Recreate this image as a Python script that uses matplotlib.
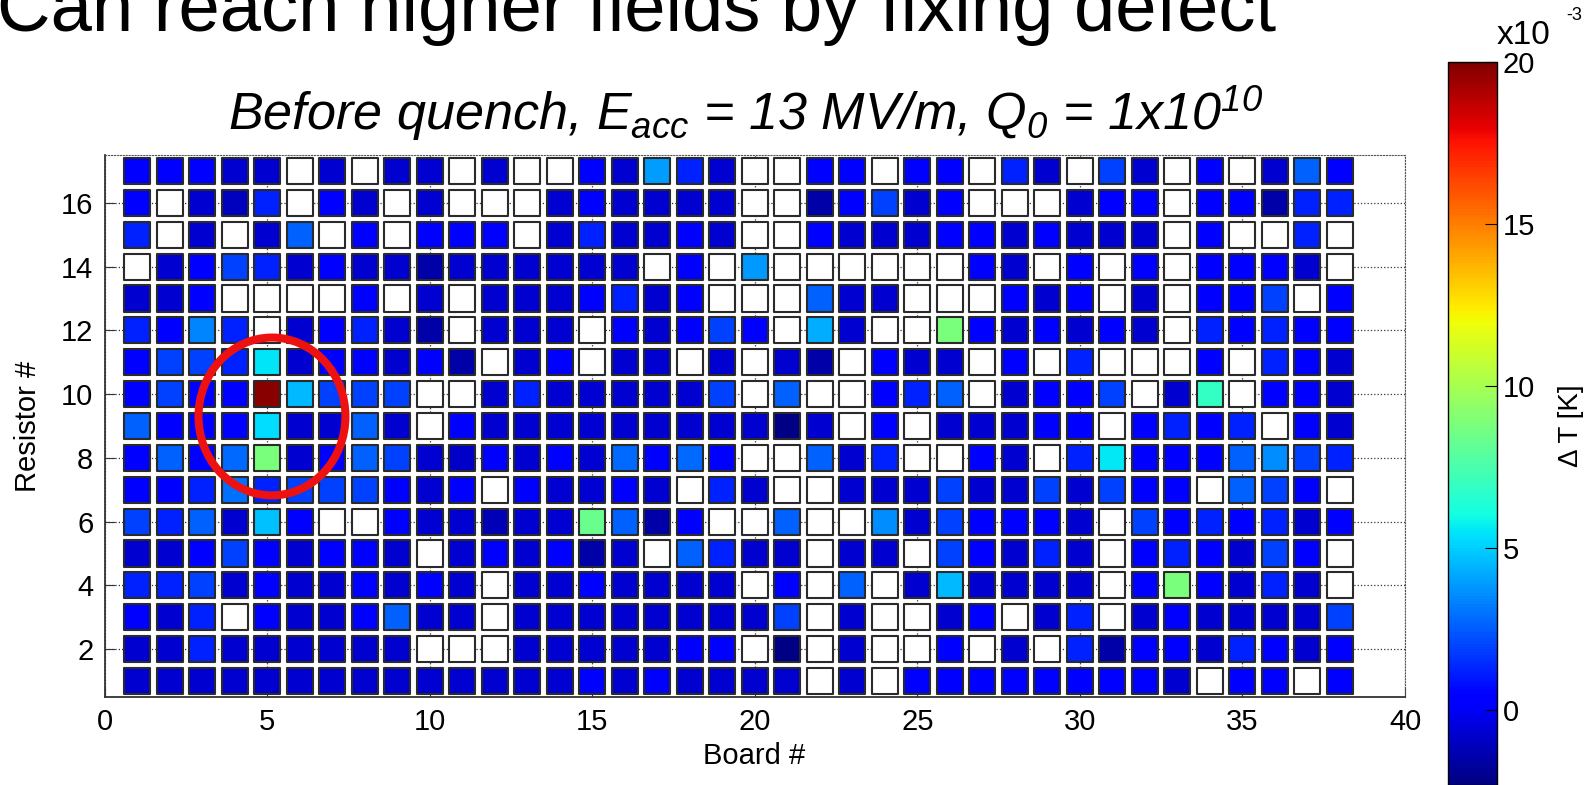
import numpy as np
import matplotlib as mpl
import matplotlib.pyplot as plt
from matplotlib.patches import Rectangle, Ellipse
from matplotlib.collections import PatchCollection

mpl.rcParams['font.family'] = 'Liberation Sans'
mpl.rcParams['mathtext.fontset'] = 'custom'
mpl.rcParams['mathtext.it'] = 'Liberation Sans:italic'
mpl.rcParams['mathtext.rm'] = 'Liberation Sans:italic'

nan = np.nan

# boards along x, resistors along y
boards = np.arange(1, 39)
resistors = np.arange(1, 18)

# delta T per resistor row, in units of 1e-3 K (nan = no reading)
r01 = [-0.7, -0.7, -0.7, -0.7, -0.7, -0.7, -0.7, -0.7, -0.7, -0.7, -0.7, -0.7, -0.7, -0.7, 0.3, -0.7, 0.3, -0.7, -0.7,
       -0.7, -0.7, nan, -0.7, nan, 0.3, 0.3, 0.3, 0.3, 0.3, 0.3, 0.3, 0.3, -0.7, nan, 0.3, 0.3, nan, 0.3]
r02 = [-0.7, -0.7, 1.2, -0.7, -0.7, -0.7, -0.7, -0.7, -0.7, nan, nan, nan, -0.7, -0.7, -0.7, -0.7, -0.7, 0.3, 0.3,
       nan, -2.2, nan, -0.7, nan, nan, 0.3, nan, -0.7, nan, 1.2, -1.5, 0.3, 0.3, -0.7, 1.2, 0.3, -0.7, 0.3]
r03 = [0.3, -0.7, 1.2, nan, 0.3, -0.7, -0.7, 0.3, 2.6, -0.7, -0.7, nan, -0.7, -0.7, -0.7, -0.7, -0.7, -0.7, -0.7,
       -0.7, 1.9, nan, -0.7, nan, nan, -0.7, 0.3, nan, -0.7, 1.2, nan, -0.7, 0.3, -0.7, -0.7, -0.7, -0.7, 1.9]
r04 = [1.2, 1.2, 1.9, -0.7, 0.3, -0.7, -0.7, 0.3, -0.7, 0.3, -0.7, nan, -0.7, -0.7, 0.3, -0.7, -0.7, -0.7, -0.7,
       nan, 0.3, nan, 2.6, nan, -0.7, 4.5, -0.7, -0.7, -0.7, -0.7, nan, 0.3, 8.8, 0.3, -0.7, 1.2, -0.7, nan]
r05 = [-0.7, -0.7, 0.3, 1.9, 0.3, -0.7, 0.3, 0.3, -0.7, nan, -0.7, 0.3, -0.7, 0.3, -1.5, -0.7, nan, 2.6, 1.2,
       -0.7, -0.7, nan, -0.7, -0.7, nan, 1.9, 0.3, -0.7, 1.2, -0.7, nan, 0.3, 1.2, 0.3, -0.7, 1.9, 0.3, nan]
r06 = [1.9, 1.2, 2.6, -0.7, 4.7, 0.3, nan, nan, 0.3, -0.7, -0.7, -1.2, -0.7, -0.7, 8.4, 2.6, -1.5, 0.3, nan,
       nan, 2.6, nan, nan, 3.6, -0.7, 1.9, 0.3, 0.3, 0.3, -0.7, nan, 1.9, 0.3, 1.2, 0.3, 1.2, -0.7, 0.3]
r07 = [0.3, 0.3, 1.2, 3.0, 1.2, 1.9, 1.9, 1.9, 0.3, -0.7, 0.3, nan, 0.3, -0.7, -0.7, 0.3, -0.7, nan, 1.2,
       -0.7, nan, nan, -0.7, -0.7, -0.7, 1.9, -0.7, -0.7, 1.9, -0.7, 1.9, 0.3, 0.3, nan, 2.6, 1.9, 0.3, nan]
r08 = [0.3, 2.6, 0.3, 2.8, 8.8, -0.7, 0.3, 2.6, 1.9, -0.7, -0.9, 0.3, -0.7, 0.3, -0.7, 2.8, 0.3, 2.8, 0.3,
       nan, nan, 2.6, -0.7, 1.2, nan, nan, 0.3, -0.7, nan, 1.2, 5.6, 0.3, 0.3, 0.3, 2.6, 3.6, 1.9, 1.2]
r09 = [2.6, 0.3, 0.3, 0.3, 5.3, -0.7, -0.7, 2.6, -0.7, nan, 0.3, -0.7, -0.7, -0.7, -0.7, -0.7, -0.7, -0.7, -0.7,
       -0.7, -2.2, -0.7, nan, 0.3, nan, -0.7, -0.7, -0.7, 0.3, 0.3, nan, 0.3, 1.2, 0.3, 1.2, nan, 0.3, -0.7]
r10 = [0.3, 1.9, 0.3, 0.3, 19.8, 4.5, 1.9, 1.9, 1.9, nan, nan, -0.7, 1.2, -0.7, -0.7, -0.7, -0.7, -0.7, 1.9,
       nan, 2.6, nan, nan, 0.3, 1.2, 2.6, nan, -0.7, 0.3, 0.3, 1.9, nan, -0.7, 6.9, nan, 0.3, 0.3, -0.7]
r11 = [0.3, 1.9, 1.9, 1.2, 5.5, -0.7, 0.3, 0.3, -0.7, 0.3, -1.5, nan, -0.7, 0.3, nan, -0.7, -0.7, nan, -0.7,
       nan, -0.7, -1.5, nan, 0.3, -0.7, -0.7, nan, 0.3, nan, 1.2, nan, nan, nan, 0.3, nan, 1.2, 0.3, -0.7]
r12 = [1.2, 0.3, 3.4, 1.2, nan, -0.7, 0.3, 1.2, -0.7, -1.5, nan, -0.7, -0.7, -0.7, nan, 0.3, -0.7, 0.3, 1.9,
       0.3, nan, 4.3, -0.7, nan, nan, 8.8, 0.3, -0.7, 0.3, -0.7, 0.3, -0.7, nan, 1.2, 0.3, 1.2, 0.3, 0.3]
r13 = [-0.7, -0.7, 0.3, nan, nan, nan, nan, 0.3, nan, -0.7, nan, -0.7, -0.7, -0.7, 0.3, 1.2, -0.7, 0.3, nan,
       nan, nan, 2.6, -0.7, -0.7, nan, nan, nan, 0.3, -0.7, 0.3, nan, -0.7, nan, 0.3, 0.3, 1.9, nan, 0.3]
r14 = [nan, -0.7, 0.3, 1.9, 1.2, -0.7, 0.3, -0.7, -0.7, -1.5, -0.7, -0.7, -0.7, -0.7, -0.7, -0.7, nan, 0.3, nan,
       3.8, nan, nan, nan, nan, nan, nan, 0.3, -0.7, nan, 0.3, nan, 0.3, nan, 0.3, 0.3, 0.3, -0.7, nan]
r15 = [1.2, nan, -0.7, nan, -0.7, 2.6, nan, 0.3, nan, 0.3, 0.3, 0.3, nan, -0.7, 1.2, -0.7, -0.7, 0.3, -0.7,
       nan, nan, 0.3, -0.7, -0.7, -0.7, 0.3, 0.3, -0.7, 0.3, -0.7, -0.7, -0.7, nan, 0.3, nan, nan, 1.2, nan]
r16 = [0.3, nan, -0.7, -1.0, 1.2, nan, 0.3, -0.7, nan, -0.7, nan, nan, nan, -0.7, 0.3, -0.7, -0.7, -0.7, -0.7,
       nan, nan, -1.5, 0.3, 1.9, -0.7, 0.3, nan, nan, nan, -0.7, 0.3, 0.3, nan, 0.3, 0.3, -1.5, 1.2, 1.2]
r17 = [0.3, 0.3, 0.3, -0.7, -0.7, nan, -0.7, nan, -0.7, -0.7, nan, -0.7, nan, nan, 0.3, -0.7, 3.9, 1.2, -0.7,
       nan, nan, 0.3, 0.3, nan, 0.3, 0.3, nan, 1.2, -0.7, nan, 1.9, -0.7, nan, 0.3, nan, -0.7, 2.6, 0.3]

dT = np.array([r01, r02, r03, r04, r05, r06, r07, r08, r09, r10, r11, r12, r13, r14, r15, r16, r17])

fig = plt.figure(figsize=(15.91, 7.85), dpi=100)
ax = fig.add_axes([0.0657, 0.1121, 0.8174, 0.6904])

cells = []
vals = []
for i, r in enumerate(resistors):
    for j, b in enumerate(boards):
        cells.append(Rectangle((b - 0.4, r - 0.41), 0.8, 0.82))
        vals.append(dT[i, j])

cmap = plt.get_cmap('jet').copy()
cmap.set_bad('white')
pc = PatchCollection(cells, cmap=cmap, norm=mpl.colors.Normalize(-2.3, 20),
                     edgecolor='#2a2a2a', linewidth=1.5, zorder=2)
pc.set_array(np.ma.masked_invalid(np.array(vals)))
ax.add_collection(pc)

ax.set_xlim(0, 40)
ax.set_ylim(0.5, 17.5)
ax.set_xticks(np.arange(0, 41, 5))
ax.set_yticks(np.arange(2, 17, 2))
ax.grid(True, linestyle=':', color='#333333', linewidth=0.9)
ax.set_axisbelow(True)
ax.tick_params(direction='in', length=7, labelsize=21, pad=8, color='#333333')
for s in ['top', 'right']:
    ax.spines[s].set_linestyle(':')
    ax.spines[s].set_color('#555555')
for s in ['left', 'bottom']:
    ax.spines[s].set_color('#333333')
    ax.spines[s].set_linewidth(1.3)

# hand-drawn highlight around the defect
ax.add_patch(Ellipse((5.15, 9.3), 4.52, 4.95, fill=False, edgecolor='#ee1111',
                     linewidth=5.8, clip_on=False, zorder=5))

fig.text(754/1591, 1 - 756/785, 'Board #', fontsize=21, ha='center', va='center')
fig.text(28/1591, 1 - 426/785, 'Resistor #', fontsize=21, ha='center', va='center', rotation=90)

cax = fig.add_axes([0.9101, 0.0, 0.0308, 0.921])
cb = fig.colorbar(pc, cax=cax, ticks=[0, 5, 10, 15, 20])
cb.outline.set_linewidth(1.0)
cax.tick_params(direction='in', length=9, labelsize=21, pad=4)
fig.text(1571/1591, 1 - 426/785, '\u0394 T [K]', fontsize=20, ha='center', va='center',
         rotation=90, family=['Liberation Sans', 'DejaVu Sans'])
fig.text(1497/1591, 1 - 44/785, 'x10', fontsize=24, ha='left', va='baseline')
fig.text(1566/1591, 1 - 20/785, '-3', fontsize=13, ha='left', va='baseline')

fig.text(-0.002, 1 - 31/785, 'Can reach higher fields by fixing defect', fontsize=53.5,
         ha='left', va='baseline')
fig.text(746/1591, 1 - 130/785, 'Before quench, $E_{acc}$ = 13 MV/m, $Q_0$ = 1x10$^{10}$',
         fontsize=37.5, style='italic', ha='center', va='baseline')

fig.savefig('out.png', dpi=100)
